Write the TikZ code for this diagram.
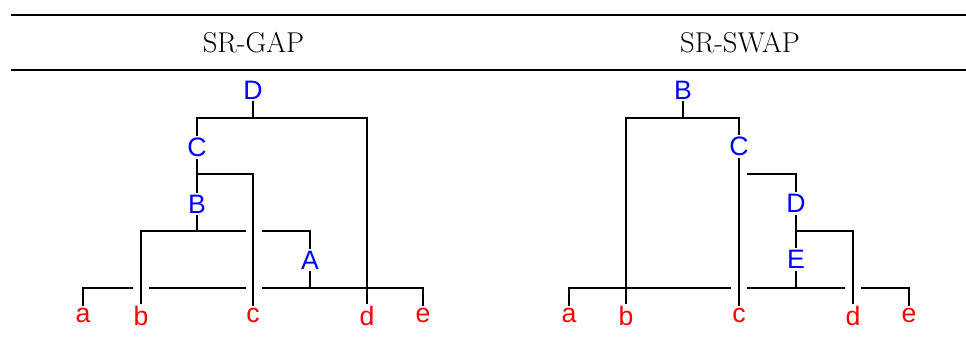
\documentclass[tikz,border=0pt]{standalone}
\usepackage{fontspec}
\newfontfamily\labelfont{Liberation Sans}
\begin{document}
\begin{tikzpicture}[x=0.75pt, y=-0.75pt, line width=0.8pt,
  kat/.style={blue, font=\labelfont\fontsize{20}{24}\selectfont, inner sep=1pt},
  wort/.style={red, font=\labelfont\fontsize{20}{24}\selectfont, inner sep=1pt},
  kopf/.style={font=\fontsize{21.5}{26}\selectfont, anchor=base}]
  \useasboundingbox (0,0) rectangle (966,338);

  % Tabellenlinien
  \draw[line width=1.6pt] (11,15) -- (966,15);
  \draw[line width=0.9pt] (11,70) -- (966,70);

  % Kopfzeile
  \node[kopf] (hGap) at (253.5,53) {SR-GAP};
  \node[kopf] (hSwap) at (740,53) {SR-SWAP};

  % SR-GAP: Beschriftungen
  \node[kat] (gD) at (253,90) {D};
  \node[kat] (gC) at (197,147.5) {C};
  \node[kat] (gB) at (197,204) {B};
  \node[kat] (gA) at (310,260) {A};
  \node[wort] (ga) at (83,315.5) {a};
  \node[wort] (gb) at (141,315.5) {b};
  \node[wort] (gc) at (253,315.5) {c};
  \node[wort] (gd) at (367,315.5) {d};
  \node[wort] (ge) at (423,315.5) {e};

  % SR-GAP: Linien
  \coordinate (gDh) at (253,118);
  \coordinate (gCh) at (197,174);
  \coordinate (gBh) at (197,231);
  \coordinate (gAh) at (310,288);
  \coordinate (gB1) at (246,231);
  \coordinate (gB2) at (262,231);
  \coordinate (gA1) at (133,288);
  \coordinate (gA2) at (149,288);
  \coordinate (gA3) at (246,288);
  \coordinate (gA4) at (262,288);
  \draw (gD) -- (gDh);
  \draw (gC) |- (gDh) -| (gd);
  \draw (gC) -- (gB);
  \draw (gCh) -| (gc);
  \draw (gB) -- (gBh);
  \draw (gb) |- (gB1);
  \draw (gB2) -| (gA);
  \draw (gA) -- (gAh);
  \draw (ga) |- (gA1);
  \draw (gA2) -- (gA3);
  \draw (gA4) -| (ge);

  % SR-SWAP: Beschriftungen
  \node[kat] (sB) at (683,90) {B};
  \node[kat] (sC) at (739,146.5) {C};
  \node[kat] (sD) at (796,203.5) {D};
  \node[kat] (sE) at (796,259.5) {E};
  \node[wort] (sa) at (569,315.5) {a};
  \node[wort] (sb) at (626,315.5) {b};
  \node[wort] (sc) at (739,315.5) {c};
  \node[wort] (sd) at (853,315.5) {d};
  \node[wort] (se) at (909,315.5) {e};

  % SR-SWAP: Linien
  \coordinate (sBh) at (683,118);
  \coordinate (sC1) at (747,174);
  \coordinate (sDh) at (796,231);
  \coordinate (sEh) at (796,288);
  \coordinate (sE1) at (731,288);
  \coordinate (sE2) at (747,288);
  \coordinate (sE3) at (845,288);
  \coordinate (sE4) at (861,288);
  \draw (sB) -- (sBh);
  \draw (sb) |- (sBh) -| (sC);
  \draw (sC) -- (sc);
  \draw (sC1) -| (sD);
  \draw (sD) -- (sE);
  \draw (sDh) -| (sd);
  \draw (sE) -- (sEh);
  \draw (sa) |- (sE1);
  \draw (sE2) -- (sE3);
  \draw (sE4) -| (se);
\end{tikzpicture}
\end{document}
